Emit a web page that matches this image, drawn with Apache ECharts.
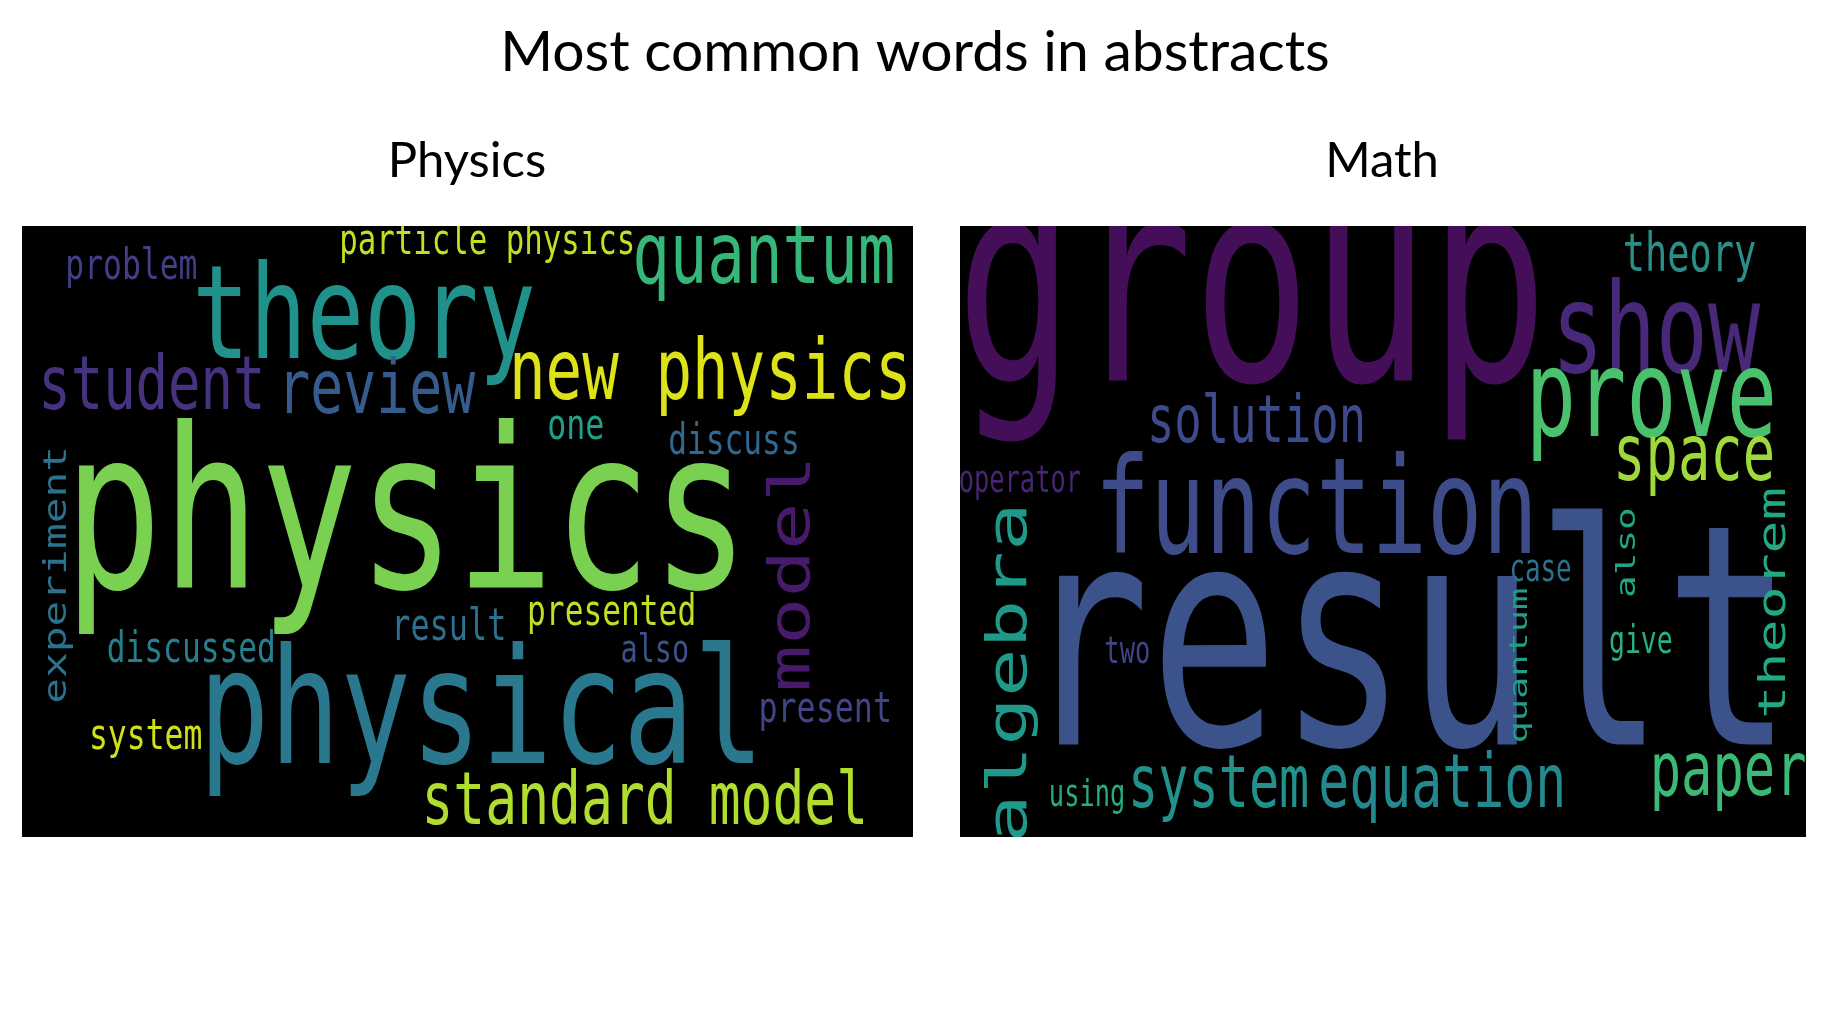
<!DOCTYPE html>
<html>
<head>
<meta charset="utf-8">
<script src="https://cdn.jsdelivr.net/npm/echarts@6/dist/echarts.min.js"></script>
<style>
html, body { margin: 0; padding: 0; background: #ffffff; }
#chart { width: 1836px; height: 1024px; }
</style>
</head>
<body>
<div id="chart"></div>
<script>
// ---------- data ----------
const chartTitle = 'Most common words in abstracts';
const panelTitles = ['Physics', 'Math'];

const physicsWords = ['physics', 'theory', 'physical', 'quantum', 'new physics', 'model', 'student', 'review',
  'standard model', 'particle physics', 'problem', 'experiment', 'one', 'discuss', 'result', 'presented',
  'discussed', 'also', 'present', 'system'];
// relative frequency (largest word = 1)
const physicsWeights = [1.00, 0.585, 0.722, 0.384, 0.374, 0.353, 0.332, 0.337,
  0.326, 0.189, 0.193, 0.192, 0.195, 0.192, 0.196, 0.192,
  0.192, 0.175, 0.195, 0.193];

const mathWords = ['result', 'group', 'function', 'show', 'prove', 'algebra', 'space', 'paper', 'equation',
  'system', 'solution', 'theorem', 'theory', 'also', 'case', 'quantum', 'give', 'two', 'using', 'operator'];
const mathWeights = [1.00, 0.921, 0.431, 0.406, 0.391, 0.262, 0.252, 0.244, 0.241,
  0.235, 0.213, 0.178, 0.173, 0.122, 0.121, 0.120, 0.124, 0.119, 0.119, 0.119];

// ---------- word-cloud layout (cloud canvas is 400 x 200 units) ----------
const cloudW = 400, cloudH = 200;
// [x, y, vertical?]
const physicsLayout = [
  [172.7, 99.6, 0], [153.5, 32.2, 0], [206.3, 162.1, 0], [333.0, 11.5, 0], [309.0, 49.6, 0],
  [346.4, 113.8, 1], [58.3, 53.6, 0], [159.0, 54.8, 0], [279.6, 189.5, 0], [208.9, 5.6, 0],
  [49.1, 13.8, 0], [16.3, 114.2, 1], [248.6, 65.9, 0], [319.6, 70.9, 0], [191.6, 131.8, 0],
  [264.7, 127.0, 0], [76.0, 139.1, 0], [284.1, 139.5, 0], [360.6, 158.6, 0], [55.5, 167.4, 0]
];
const mathLayout = [
  [211.4, 143.5, 0], [138.0, 26.4, 0], [168.4, 95.8, 0], [329.0, 37.2, 0], [326.9, 58.6, 0],
  [24.1, 146.2, 1], [347.1, 76.6, 0], [363.2, 179.7, 0], [228.0, 183.9, 0], [122.3, 184.1, 0],
  [140.2, 65.1, 0], [385.6, 123.4, 1], [344.9, 10.3, 0], [315.8, 106.9, 1], [274.5, 113.0, 0],
  [264.8, 143.9, 1], [321.9, 136.4, 0], [79.1, 139.8, 0], [60.1, 186.6, 0], [28.3, 83.9, 0]
];
const physicsMaxFont = 73;
const mathMaxFont = 101;

// ---------- styles ----------
const physicsColors = ['#7ad151', '#21918c', '#2a788e', '#35b779', '#dde318', '#481a6c', '#46327e', '#365c8d',
  '#b0dd2f', '#c2df23', '#433e85', '#2c728e', '#1fa088', '#31688e', '#2d708e', '#c2df23',
  '#277f8e', '#3b528b', '#414487', '#d0e11c'];
const mathColors = ['#3b528b', '#440f58', '#3e4c8a', '#482878', '#4ac16d', '#1f9a8a', '#9fda3a', '#3aba76', '#23898e',
  '#21918c', '#3e4a89', '#22a884', '#2a8f89', '#21a585', '#2c728e', '#1f9f88', '#2ab07f', '#414487', '#25ac82', '#482475'];
const wordFont = '"DejaVu Sans Mono", monospace';
const titleFont = 'Lato, "Open Sans", sans-serif';

function buildData(words, weights, layout, maxFont) {
  return words.map((w, i) => ({
    name: w,
    value: [layout[i][0], layout[i][1], weights[i] * maxFont, layout[i][2]]
  }));
}

function makeRender(words, colors) {
  return function (params, api) {
    const p = api.coord([api.value(0), api.value(1)]);
    const s = api.size([1, 1]);
    const sx = Math.abs(s[0]), sy = Math.abs(s[1]);
    const fontSize = api.value(2) * sx;
    const k = sy / sx;
    const vertical = api.value(3) === 1;
    const color = colors[params.dataIndex];
    return {
      type: 'text',
      x: p[0],
      y: p[1],
      rotation: vertical ? Math.PI / 2 : 0,
      scaleX: vertical ? k : 1,
      scaleY: vertical ? 1 : k,
      style: {
        text: words[params.dataIndex],
        x: 0,
        y: 0,
        fontSize: fontSize,
        fontFamily: wordFont,
        fill: color,
        align: 'center',
        verticalAlign: 'middle',
        shadowBlur: 1.5,
        shadowColor: color
      }
    };
  };
}

const chart = echarts.init(document.getElementById('chart'), null, { renderer: 'canvas' });
const option = {
  backgroundColor: '#ffffff',
  animation: false,
  title: [
    { text: chartTitle, left: 910, top: 19, textAlign: 'center',
      textStyle: { fontFamily: titleFont, fontSize: 57, fontWeight: 'normal', color: '#000000' } },
    { text: panelTitles[0], left: 462, top: 132, textAlign: 'center',
      textStyle: { fontFamily: titleFont, fontSize: 49, fontWeight: 'normal', color: '#000000' } },
    { text: panelTitles[1], left: 1377, top: 132, textAlign: 'center',
      textStyle: { fontFamily: titleFont, fontSize: 49, fontWeight: 'normal', color: '#000000' } }
  ],
  grid: [
    { left: 22, top: 226, width: 891, height: 611, show: true, backgroundColor: '#000000', borderWidth: 0 },
    { left: 960, top: 226, width: 846, height: 611, show: true, backgroundColor: '#000000', borderWidth: 0 }
  ],
  xAxis: [
    { type: 'value', gridIndex: 0, min: 0, max: cloudW, show: false },
    { type: 'value', gridIndex: 1, min: 0, max: cloudW, show: false }
  ],
  yAxis: [
    { type: 'value', gridIndex: 0, min: 0, max: cloudH, inverse: true, show: false },
    { type: 'value', gridIndex: 1, min: 0, max: cloudH, inverse: true, show: false }
  ],
  series: [
    { type: 'custom', name: 'Physics', xAxisIndex: 0, yAxisIndex: 0, clip: true,
      renderItem: makeRender(physicsWords, physicsColors),
      data: buildData(physicsWords, physicsWeights, physicsLayout, physicsMaxFont) },
    { type: 'custom', name: 'Math', xAxisIndex: 1, yAxisIndex: 1, clip: true,
      renderItem: makeRender(mathWords, mathColors),
      data: buildData(mathWords, mathWeights, mathLayout, mathMaxFont) }
  ]
};
chart.setOption(option);
</script>
</body>
</html>
